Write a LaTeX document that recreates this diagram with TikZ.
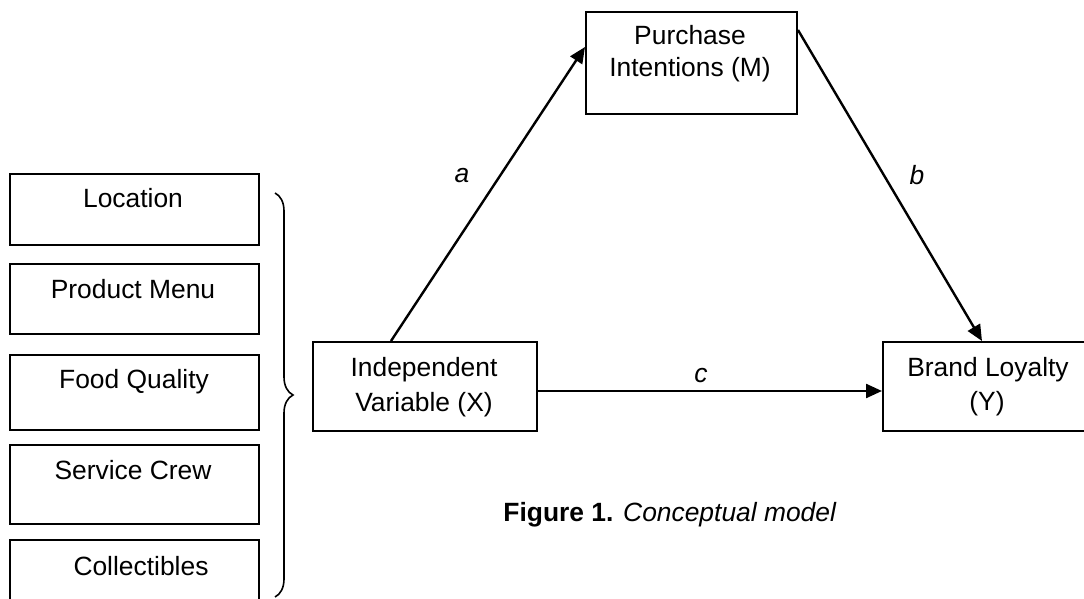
\documentclass[tikz,border=0pt]{standalone}
\usepackage{fontspec}
\setmainfont{Liberation Sans}
\usetikzlibrary{arrows.meta,calc,decorations.pathreplacing}
\begin{document}
\begin{tikzpicture}[x=0.5pt,y=-0.5pt,
  box/.style={draw=black,line width=1pt,rectangle,inner sep=0pt,anchor=north west},
  txt/.style={font=\fontsize{13.2pt}{17pt}\selectfont,inner sep=0pt,anchor=base},
  lbl/.style={font=\fontsize{13.2pt}{17pt}\selectfont\itshape,inner sep=0pt},
  arr/.style={line width=1.2pt,-{Triangle[length=8pt,width=7pt]}}]
\useasboundingbox (0,0) rectangle (1084,599);
% left boxes
\node[box,minimum width=124.5pt,minimum height=35.5pt] (loc) at (9,173) {};
\node[txt] (loct) at (133,208) {Location};
\node[box,minimum width=124.5pt,minimum height=35pt] (pm) at (9,263) {};
\node[txt] (pmt) at (133,299) {Product Menu};
\node[box,minimum width=124.5pt,minimum height=37.5pt] (fq) at (9,354) {};
\node[txt] (fqt) at (134,389) {Food Quality};
\node[box,minimum width=124.5pt,minimum height=39.5pt] (sc) at (9,444) {};
\node[txt] (sct) at (133,480) {Service Crew};
\node[box,minimum width=124.5pt,minimum height=40pt] (co) at (9,539) {};
\node[txt] (cot) at (141,575) {Collectibles};
% brace
\coordinate (bt) at (275,193);
\coordinate (bb) at (275,597);
\draw[line width=0.8pt,decorate,decoration={brace,amplitude=9pt}] (bt) -- (bb);
% main boxes
\node[box,minimum width=112pt,minimum height=44.5pt] (iv) at (312,341) {};
\node[txt] (iv1) at (424,377) {Independent};
\node[txt] (iv2) at (424,412) {Variable (X)};
\node[box,minimum width=105.5pt,minimum height=51pt] (pi) at (585,11) {};
\node[txt] (pi1) at (690,45) {Purchase};
\node[txt] (pi2) at (690,77) {Intentions (M)};
\node[box,minimum width=105pt,minimum height=44.5pt] (bl) at (882,341) {};
\node[txt] (bl1) at (988,377) {Brand Loyalty};
\node[txt] (bl2) at (987,410) {(Y)};
% arrows
\draw[arr] ($(iv.north west)+(79,0)$) -- ($(pi.north west)+(0,36)$);
\draw[arr] ($(pi.north east)+(0,19)$) -- ($(bl.north west)+(100,0)$);
\draw[arr] ($(iv.north east)+(0,50)$) -- ($(bl.north west)+(0,50)$);
% labels
\node[lbl] (la) at (462,176) {a};
\node[lbl] (lb) at (917,175) {b};
\node[lbl] (lc) at (701,376) {c};
% caption
\node[txt,anchor=base west] (cap) at (503,522) {\textbf{Figure 1.} \textit{Conceptual model}};
\end{tikzpicture}
\end{document}
